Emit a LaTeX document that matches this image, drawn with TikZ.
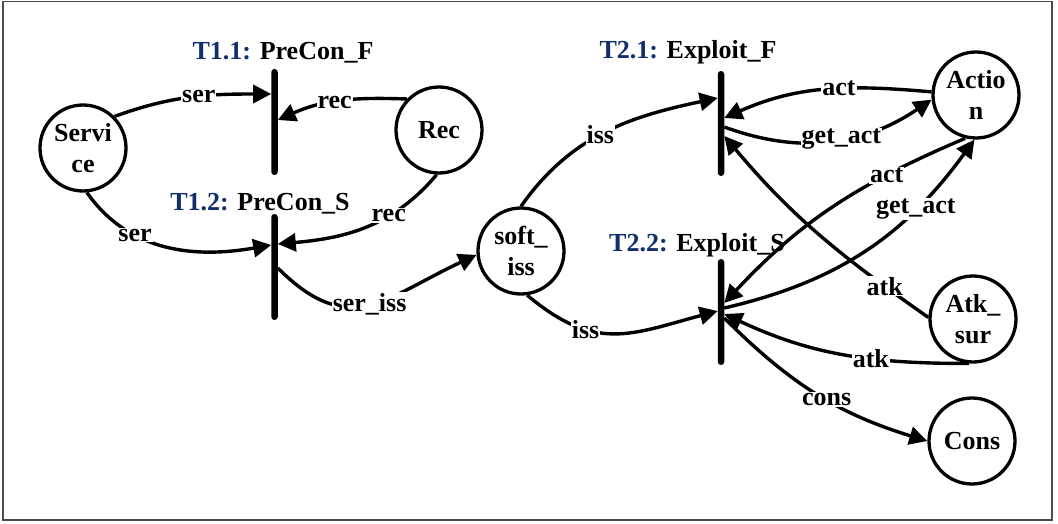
\documentclass[tikz,border=0pt]{standalone}
\usepackage{fontspec}
\setmainfont{Liberation Serif}
\usetikzlibrary{arrows.meta}
\definecolor{tblue}{RGB}{18,46,108}
\begin{document}
\begin{tikzpicture}[x=1pt,y=1pt,
  every node/.style={font=\fontsize{26}{31}\selectfont\bfseries},
  place/.style={circle,draw,line width=3.3pt,minimum size=86pt,inner sep=0pt,align=center},
  bar/.style={rectangle,fill=black,minimum width=6.5pt,inner sep=0pt,rounded corners=3.2pt},
  arc/.style={line width=3.4pt,-{Triangle[length=18pt,width=18pt]}},
  lbl/.style={fill=white,inner sep=1pt},
  ttl/.style={inner sep=0pt,anchor=base},
]
\useasboundingbox (0,0) rectangle (1058,-524);
\draw[line width=1.2pt,black!70] (3,-1.5) rectangle (1052,-520);

% places
\node[place] (svc) at (83,-148) {Servi\\ce};
\node[place] (rec) at (439,-130) {Rec};
\node[place] (soft) at (521,-251) {soft\_\\iss};
\node[place] (act) at (976,-95) {Actio\\n};
\node[place] (atk) at (973,-319) {Atk\_\\sur};
\node[place] (cons) at (972,-441) {Cons};

% transitions
\node[bar,minimum height=106pt] (t11) at (274.5,-122) {};
\node[bar,minimum height=106pt] (t12) at (274.5,-267) {};
\node[bar,minimum height=105pt] (t21) at (721,-123.5) {};
\node[bar,minimum height=106pt] (t22) at (721,-312) {};

\node[ttl] (l11) at (283,-59.5) {\textcolor{tblue}{T1.1:} PreCon\_F};
\node[ttl] (l12) at (260,-210.5) {\textcolor{tblue}{T1.2:} PreCon\_S};
\node[ttl] (l21) at (688,-59) {\textcolor{tblue}{T2.1:} Exploit\_F};
\node[ttl] (l22) at (697,-251.5) {\textcolor{tblue}{T2.2:} Exploit\_S};

% attachment points on the bars
\coordinate (t11a) at (271.2,-94);
\coordinate (t11b) at (277.8,-120);
\coordinate (t12a) at (271.2,-245);
\coordinate (t12b) at (277.8,-244);
\coordinate (t12c) at (277.8,-268);
\coordinate (t21a) at (717.7,-98);
\coordinate (t21b) at (724.3,-118);
\coordinate (t21c) at (724.3,-127);
\coordinate (t21d) at (724.3,-136);
\coordinate (t22a) at (717.7,-311);
\coordinate (t22b) at (724.3,-303);
\coordinate (t22c) at (724.3,-308);
\coordinate (t22d) at (724.3,-314);
\coordinate (t22e) at (724.3,-318);

% arcs
\draw[arc] (svc.45) to[out=20,in=180] node[lbl,pos=0.55]{ser} (t11a);
\draw[arc] (rec.136) to[out=178,in=24] node[lbl,pos=0.55]{rec} (t11b);
\draw[arc] (svc.-85) to[out=-55,in=190] node[lbl,pos=0.32]{ser} (t12a);
\draw[arc] (rec.-93) to[out=-130,in=5] node[lbl,pos=0.35]{rec} (t12b);
\draw[arc] (t12c) to[out=-45,in=205,looseness=1.3] node[lbl,pos=0.5]{ser\_iss} (soft.185);
\draw[arc] (soft.90) to[out=55,in=192] node[lbl,pos=0.47]{iss} (t21a);
\draw[arc] (act.176) to[out=175,in=24] node[lbl,pos=0.43]{act} (t21b);
\draw[arc] (t21c) to[out=-20,in=214] node[lbl,pos=0.55]{get\_act} (act.186);
\draw[arc] (atk.178) to[out=145,in=310] node[lbl,pos=0.18]{atk} (t21d);
\draw[arc] (soft.-82) to[out=-40,in=195,looseness=1.2] node[lbl,pos=0.32]{iss} (t22a);
\draw[arc] (act.-104) to[out=203,in=47] node[lbl,pos=0.28]{act} (t22b);
\draw[arc] (t22c) to[out=13,in=234] node[lbl,pos=0.72]{get\_act} (act.-92);
\draw[arc] (atk.-95) to[out=180,in=335] node[lbl,pos=0.38]{atk} (t22d);
\draw[arc] (t22e) to[out=-45,in=163] node[lbl,pos=0.55]{cons} (cons.180);
\end{tikzpicture}
\end{document}
